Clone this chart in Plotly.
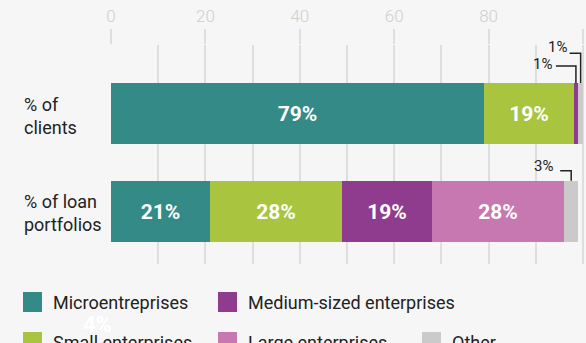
import plotly.graph_objects as go

# Share of clients and of loan portfolios by enterprise size (%)
rows = ["% of clients", "% of loan portfolios"]
row_labels = ["% of<br>clients", "% of loan<br>portfolios"]
segments = ["Microentreprises", "Small enterprises", "Medium-sized enterprises",
            "Large enterprises", "Other"]
clients = [79, 19, 1, 0, 1]
loans = [21, 28, 19, 28, 3]
colors = ["#338a86", "#a9c43f", "#8f3b8e", "#c878b0", "#cacaca"]
x_ticks = [0, 20, 40, 60, 80, 100]

BG = "#f6f6f6"
GRID = "#dedede"
FONT = "Roboto"
W, H = 586, 343
ML, MR, MT, MB = 111, 0, 45, 79
BAR_W = 0.624

fig = go.Figure()
for i, name in enumerate(segments):
    vals = [clients[i], loans[i]]
    fig.add_trace(go.Bar(
        y=rows, x=vals, name=name, orientation="h",
        marker=dict(color=colors[i], line=dict(width=0)),
        width=BAR_W,
        text=[f"{v}%" if v >= 10 else "" for v in vals],
        textposition="inside", insidetextanchor="middle",
        textfont=dict(family=FONT, size=21, color="white", weight="bold"),
        hoverinfo="skip", showlegend=False,
    ))

plot_w = W - ML - MR
plot_h = H - MT - MB
px_per_unit_x = 4.72
px_per_row = 97.8

fig.update_layout(
    width=W, height=H,
    margin=dict(l=ML, r=MR, t=MT, b=MB, pad=0),
    paper_bgcolor=BG, plot_bgcolor=BG,
    barmode="stack", bargap=0,
    font=dict(family=FONT, color="#222222"),
    xaxis=dict(
        side="top", range=[0, plot_w / px_per_unit_x],
        tickvals=x_ticks, ticks="outside", ticklen=15, tickwidth=2,
        tickcolor=GRID, showgrid=True, gridcolor=GRID, gridwidth=2,
        zeroline=False, showline=False,
        tickfont=dict(family=FONT, size=17, color="#cfcfcf", weight=300),
        minor=dict(dtick=10, showgrid=True, gridcolor=GRID, gridwidth=2, ticks=""),
    ),
    yaxis=dict(
        type="category", categoryorder="array", categoryarray=rows,
        range=[1 + 52.7 / px_per_row, -68.5 / px_per_row],
        showticklabels=False, showgrid=False, zeroline=False, showline=False,
    ),
)

# Row labels, left aligned
for r, lab, ys in zip(rows, row_labels, [-2.5, -2]):
    fig.add_annotation(
        x=(22 - ML) / plot_w, xref="paper", y=r, yref="y",
        text=lab, showarrow=False, xanchor="left", yanchor="middle",
        align="left", yshift=ys,
        font=dict(family=FONT, size=18, color="#222222"),
    )

# Callouts for the thin segments: elbow leader lines drawn down to the bar top
def callout(row_idx, vals, seg_idx, rise_px, run_px, text_dy, gap_px):
    start = sum(vals[:seg_idx])
    cx = start + vals[seg_idx] / 2
    top = row_idx - BAR_W / 2
    ly = top - rise_px / px_per_row
    lx = cx - run_px / px_per_unit_x
    fig.add_shape(
        type="path", xref="x", yref="y",
        path=f"M {lx} {ly} L {cx} {ly} L {cx} {top}",
        line=dict(color="#222222", width=1.5),
    )
    fig.add_annotation(
        x=lx, y=ly, xref="x", yref="y", text=f"{vals[seg_idx]}%",
        showarrow=False, xanchor="right", yanchor="middle",
        xshift=-gap_px, yshift=text_dy,
        font=dict(family=FONT, size=15, color="#222222"),
    )

callout(0, clients, 2, 17, 20, 1.5, 2)
callout(0, clients, 4, 29.7, 11, 6, 1)
callout(1, loans, 4, 10, 11, 5, 5)

# Legend drawn as swatches and labels below the plot
def px_x(p):
    return (p - ML) / plot_w

def px_y(p):
    return (H - MB - p) / plot_h

legend_items = [
    (segments[0], colors[0], 23, 302),
    (segments[2], colors[2], 218, 302),
    (segments[1], colors[1], 23, 342),
    (segments[3], colors[3], 218, 342),
    (segments[4], colors[4], 422, 342),
]
for name, col, x0, yc in legend_items:
    fig.add_shape(
        type="rect", xref="paper", yref="paper",
        x0=px_x(x0), x1=px_x(x0 + 19), y0=px_y(yc - 10), y1=px_y(yc + 10),
        fillcolor=col, line=dict(width=0),
    )
    fig.add_annotation(
        x=px_x(x0 + 28), y=px_y(yc), xref="paper", yref="paper",
        text=name, showarrow=False, xanchor="left", yanchor="middle",
        font=dict(family=FONT, size=18, color="#222222"),
    )

fig.add_annotation(
    x=px_x(97), y=px_y(324), xref="paper", yref="paper", text="4%",
    showarrow=False, xanchor="center", yanchor="middle",
    font=dict(family=FONT, size=22, color="white", weight="bold"),
)

fig.write_html("out.html")
